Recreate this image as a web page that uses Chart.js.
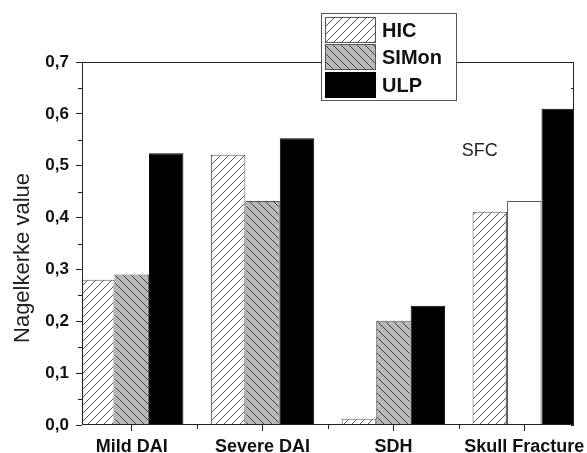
<!DOCTYPE html>
<html>
<head>
<meta charset="utf-8">
<script src="https://cdn.jsdelivr.net/npm/chart.js@4.4.0/dist/chart.umd.min.js"></script>
<style>
  html, body { margin: 0; padding: 0; background: #fff; }
</style>
</head>
<body>
<canvas id="nagelkerke" width="587" height="453"></canvas>
<script>
(function () {
  "use strict";

  // Data
  const categories = ['Mild DAI', 'Severe DAI', 'SDH', 'Skull Fracture'];
  const categoryPos = [1, 2, 3, 4];
  const hicValues = [0.28, 0.521, 0.012, 0.411];
  const simonValues = [0.29, 0.432, 0.201, 0.432];
  const ulpValues = [0.524, 0.553, 0.23, 0.61];
  const seriesNames = ['HIC', 'SIMon', 'ULP'];
  const yTicks = [0, 0.1, 0.2, 0.3, 0.4, 0.5, 0.6, 0.7];
  const yMinorTicks = [0.05, 0.15, 0.25, 0.35, 0.45, 0.55, 0.65];
  const xMinorTicks = [1.5, 2.5, 3.5];

  const FONT = "'Liberation Sans', Arial, sans-serif";
  const LINE = '#222';
  const EDGE = '#555';

  const canvas = document.getElementById('nagelkerke');
  const ctx = canvas.getContext('2d');

  // Hatch fill
  function hatch(bg, color, dir) {
    const size = 8;
    const c = document.createElement('canvas');
    c.width = size; c.height = size;
    const g = c.getContext('2d');
    g.fillStyle = bg;
    g.fillRect(0, 0, size, size);
    g.strokeStyle = color;
    g.lineWidth = 1;
    g.beginPath();
    if (dir === '/') {
      g.moveTo(0, size); g.lineTo(size, 0);
      g.moveTo(-1, 1); g.lineTo(1, -1);
      g.moveTo(size - 1, size + 1); g.lineTo(size + 1, size - 1);
    } else {
      g.moveTo(0, 0); g.lineTo(size, size);
      g.moveTo(-1, size - 1); g.lineTo(1, size + 1);
      g.moveTo(size - 1, -1); g.lineTo(size + 1, 1);
    }
    g.stroke();
    return ctx.createPattern(c, 'repeat');
  }

  const hicFill = hatch('#ffffff', '#555', '/');
  const simonFill = hatch('#b8b8b8', '#444', '\\');
  const ulpFill = '#000000';
  const simonFills = [simonFill, simonFill, simonFill, '#ffffff'];

  function toPoints(values) {
    return values.map(function (v, i) { return { x: categoryPos[i], y: v }; });
  }

  const decorations = {
    id: 'decorations',
    beforeDatasetsDraw: function (chart) {
      const a = chart.chartArea;
      const y = chart.scales.y;
      const c = chart.ctx;
      c.save();
      c.strokeStyle = LINE;
      c.lineWidth = 1;
      c.beginPath();
      yTicks.concat(yMinorTicks).forEach(function (v) {
        const py = Math.round(y.getPixelForValue(v)) + 0.5;
        c.moveTo(a.right, py); c.lineTo(a.right - 3, py);
      });
      c.stroke();
      c.restore();
    },
    afterDatasetsDraw: function (chart) {
      const a = chart.chartArea;
      const x = chart.scales.x;
      const y = chart.scales.y;
      const c = chart.ctx;
      c.save();
      c.strokeStyle = LINE;
      c.lineWidth = 1;
      c.strokeRect(a.left + 0.5, a.top + 0.5, a.right - a.left - 1, a.bottom - a.top - 1);
      c.beginPath();
      yMinorTicks.forEach(function (v) {
        const py = Math.round(y.getPixelForValue(v)) + 0.5;
        c.moveTo(a.left, py); c.lineTo(a.left - 4, py);
      });
      xMinorTicks.forEach(function (v) {
        const px = Math.round(x.getPixelForValue(v)) + 0.5;
        c.moveTo(px, a.bottom); c.lineTo(px, a.bottom + 4);
      });
      c.stroke();

      // annotation
      c.fillStyle = LINE;
      c.font = '18px ' + FONT;
      c.textAlign = 'center';
      c.textBaseline = 'middle';
      c.fillText('SFC', x.getPixelForValue(3.66), y.getPixelForValue(0.528));
      c.restore();
    },
    afterDraw: function (chart) {
      const c = chart.ctx;
      c.save();
      // y-axis title
      c.translate(23, 258);
      c.rotate(-Math.PI / 2);
      c.fillStyle = LINE;
      c.font = '22px ' + FONT;
      c.textAlign = 'center';
      c.textBaseline = 'middle';
      c.fillText('Nagelkerke value', 0, 0);
      c.restore();

      // legend box
      c.save();
      c.fillStyle = '#fff';
      c.fillRect(321, 13, 135, 87);
      c.strokeStyle = EDGE;
      c.lineWidth = 1;
      c.strokeRect(321.5, 13.5, 135, 87);
      const fills = [hicFill, simonFill, ulpFill];
      const rows = [[17, 26], [44, 26], [72, 26]];
      rows.forEach(function (r, i) {
        c.fillStyle = fills[i];
        c.fillRect(325, r[0], 51, r[1]);
        c.strokeStyle = i === 2 ? '#000' : EDGE;
        c.strokeRect(325.5, r[0] + 0.5, 50, r[1] - 1);
        c.fillStyle = '#111';
        c.font = 'bold 20px ' + FONT;
        c.textAlign = 'left';
        c.textBaseline = 'middle';
        c.fillText(seriesNames[i], 382, r[0] + r[1] / 2 + 1);
      });
      c.restore();
    }
  };

  new Chart(ctx, {
    type: 'bar',
    data: {
      datasets: [{
        label: seriesNames[0],
        data: toPoints(hicValues),
        backgroundColor: hicFill,
        borderColor: EDGE,
        borderWidth: 1
      }, {
        label: seriesNames[1],
        data: toPoints(simonValues),
        backgroundColor: simonFills,
        borderColor: EDGE,
        borderWidth: 1
      }, {
        label: seriesNames[2],
        data: toPoints(ulpValues),
        backgroundColor: ulpFill,
        borderColor: '#000',
        borderWidth: 1
      }]
    },
    options: {
      responsive: false,
      devicePixelRatio: 1,
      animation: false,
      categoryPercentage: 0.79,
      barPercentage: 1,
      layout: { padding: { top: 62, right: 13, left: 0, bottom: 0 } },
      scales: {
        x: {
          type: 'linear',
          min: 0.62,
          max: 4.38,
          offset: false,
          afterBuildTicks: function (s) { s.ticks = categoryPos.map(function (v) { return { value: v }; }); },
          afterFit: function (s) { s.height = 28; s.paddingLeft = 0; s.paddingRight = 0; },
          border: { display: false },
          grid: { offset: false, drawOnChartArea: false, drawTicks: true, tickLength: 6, tickColor: LINE },
          ticks: {
            autoSkip: false,
            maxRotation: 0,
            padding: 5,
            color: '#111',
            font: { family: FONT, size: 18, weight: 'bold' },
            callback: function (v) { return categories[categoryPos.indexOf(v)] || ''; }
          }
        },
        y: {
          min: 0,
          max: 0.7,
          afterBuildTicks: function (s) { s.ticks = yTicks.map(function (v) { return { value: v }; }); },
          afterFit: function (s) { s.width = 82; },
          border: { display: false },
          grid: { drawOnChartArea: false, drawTicks: true, tickLength: 6, tickColor: LINE },
          ticks: {
            padding: 7,
            color: '#111',
            font: { family: FONT, size: 17, weight: 'bold' },
            callback: function (v) { return v.toFixed(1).replace('.', ','); }
          }
        }
      },
      plugins: {
        legend: { display: false },
        tooltip: { enabled: false }
      }
    },
    plugins: [decorations]
  });

})();
</script>
</body>
</html>
